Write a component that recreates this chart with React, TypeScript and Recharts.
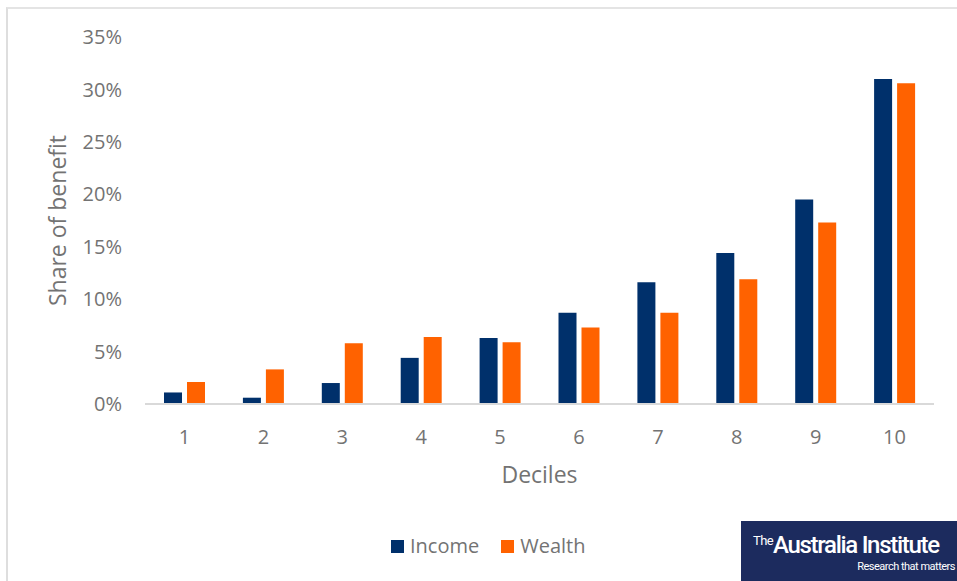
import React from 'react';
import { BarChart, Bar, XAxis, YAxis, Legend } from 'recharts';

// Share of benefit by decile (%)
const deciles = ['1', '2', '3', '4', '5', '6', '7', '8', '9', '10'];
const incomeShare = [1.1, 0.6, 2.0, 4.4, 6.3, 8.7, 11.6, 14.4, 19.5, 31.0];
const wealthShare = [2.1, 3.3, 5.8, 6.4, 5.9, 7.3, 8.7, 11.9, 17.3, 30.6];
const yTicks = [0, 5, 10, 15, 20, 25, 30, 35];

const data = deciles.map((d, i) => ({
  decile: d,
  Income: incomeShare[i],
  Wealth: wealthShare[i],
}));

const FONT = '"Open Sans", sans-serif';
const TEXT_GREY = '#737373';
const NAVY = '#00306b';
const ORANGE = '#ff6200';

function LegendContent({ payload }: any) {
  return (
    <div style={{ display: 'flex', alignItems: 'center', gap: 22, fontFamily: FONT }}>
      {(payload || []).map((entry: any) => (
        <div key={entry.value} style={{ display: 'flex', alignItems: 'center' }}>
          <span
            style={{ display: 'inline-block', width: 13, height: 13, background: entry.color, marginRight: 6 }}
          />
          <span style={{ fontSize: 20, color: TEXT_GREY, lineHeight: '24px' }}>{entry.value}</span>
        </div>
      ))}
    </div>
  );
}

export default function App() {
  return (
    <div style={{ position: 'absolute', left: 0, top: 0, width: 957, height: 581, overflow: 'hidden', background: '#fff' }}>
      {/* chart frame edge */}
      <div
        style={{
          position: 'absolute',
          left: 6,
          top: 7,
          width: 980,
          height: 600,
          borderLeft: '2px solid #dedede',
          borderTop: '2px solid #e4e4e4',
        }}
      />
      <BarChart
        width={957}
        height={581}
        data={data}
        margin={{ top: 37, right: 23, left: 0, bottom: 77 }}
        barSize={18}
        barGap={5}
      >
        <XAxis
          dataKey="decile"
          height={100}
          axisLine={{ stroke: '#d9d9d9', strokeWidth: 2 }}
          tickLine={false}
          tickSize={0}
          tickMargin={26}
          tick={{ fill: TEXT_GREY, fontSize: 20, fontFamily: FONT }}
          label={{
            content: (props: any) => {
              const vb = props.viewBox || {};
              return (
                <text
                  x={vb.x + vb.width / 2}
                  y={vb.y + 79}
                  textAnchor="middle"
                  fill={TEXT_GREY}
                  fontSize={23}
                  fontFamily={FONT}
                >
                  Deciles
                </text>
              );
            },
          }}
        />
        <YAxis
          width={145}
          domain={[0, 35]}
          ticks={yTicks}
          axisLine={false}
          tickLine={false}
          tickSize={0}
          tickMargin={23}
          tickFormatter={(v: number) => `${v}%`}
          tick={{ fill: TEXT_GREY, fontSize: 20, fontFamily: FONT }}
          label={{
            content: (props: any) => {
              const vb = props.viewBox || {};
              const cx = vb.x + 66;
              const cy = vb.y + vb.height / 2;
              return (
                <text
                  x={cx}
                  y={cy}
                  transform={`rotate(-90, ${cx}, ${cy})`}
                  textAnchor="middle"
                  fill={TEXT_GREY}
                  fontSize={23}
                  fontFamily={FONT}
                >
                  Share of benefit
                </text>
              );
            },
          }}
        />
        <Legend
          verticalAlign="middle"
          align="center"
          layout="horizontal"
          content={<LegendContent />}
          wrapperStyle={{ left: 391, top: 534, width: 'auto' }}
        />
        <Bar dataKey="Income" fill={NAVY} isAnimationActive={false} />
        <Bar dataKey="Wealth" fill={ORANGE} isAnimationActive={false} />
      </BarChart>
      {/* publisher logo */}
      <div
        style={{
          position: 'absolute',
          left: 741,
          top: 521,
          width: 216,
          height: 60,
          background: '#1c2b5e',
          color: '#fff',
          fontFamily: 'Roboto, sans-serif',
        }}
      >
        <div style={{ position: 'absolute', left: 12, top: 10, whiteSpace: 'nowrap', lineHeight: '28px' }}>
          <span style={{ fontSize: 13, letterSpacing: -0.6, verticalAlign: 'top', lineHeight: '20px' }}>The</span>
          <span style={{ fontSize: 24, fontWeight: 500, letterSpacing: -1.3 }}>Australia Institute</span>
        </div>
        <div
          style={{
            position: 'absolute',
            right: 2,
            top: 39,
            whiteSpace: 'nowrap',
            fontSize: 11,
            letterSpacing: -0.5,
          }}
        >
          Research that matters
        </div>
      </div>
    </div>
  );
}
